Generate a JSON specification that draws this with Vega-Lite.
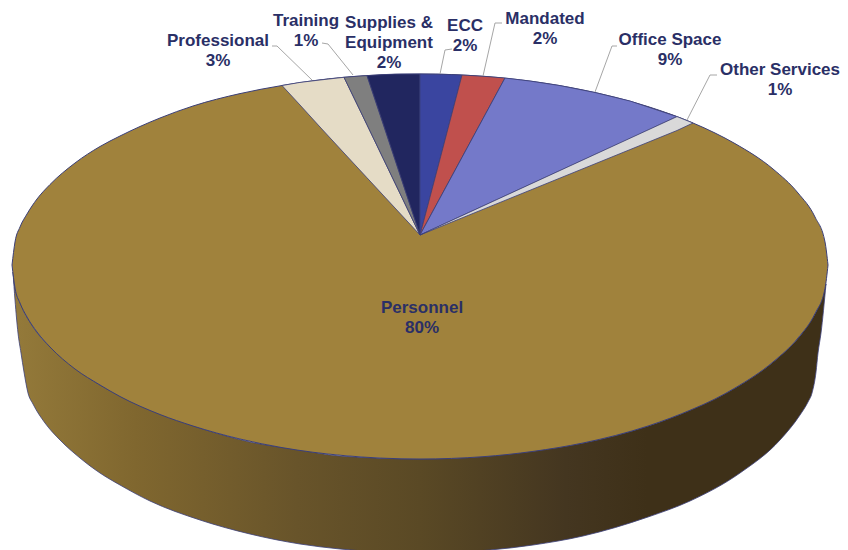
{
  "$schema": "https://vega.github.io/schema/vega-lite/v6.json",
  "width": 848,
  "height": 550,
  "padding": 0,
  "autosize": {"type": "fit", "contains": "padding"},
  "background": "white",
  "view": {"stroke": null},
  "datasets": {
    "wall": [
      {"x": 13, "upper": 272, "lower": 272},
      {"x": 15, "upper": 288, "lower": 300},
      {"x": 18, "upper": 298, "lower": 333},
      {"x": 21, "upper": 305, "lower": 353},
      {"x": 24, "upper": 312, "lower": 372},
      {"x": 28, "upper": 319, "lower": 393},
      {"x": 33, "upper": 327, "lower": 404},
      {"x": 45, "upper": 342, "lower": 423},
      {"x": 60, "upper": 356, "lower": 440},
      {"x": 80, "upper": 372, "lower": 458},
      {"x": 100, "upper": 385, "lower": 473},
      {"x": 120, "upper": 396, "lower": 485},
      {"x": 150, "upper": 410, "lower": 501},
      {"x": 200, "upper": 428, "lower": 520},
      {"x": 250, "upper": 442, "lower": 534},
      {"x": 300, "upper": 450, "lower": 544},
      {"x": 340, "upper": 456, "lower": 549},
      {"x": 420, "upper": 459, "lower": 553},
      {"x": 490, "upper": 456, "lower": 550},
      {"x": 533, "upper": 451, "lower": 545},
      {"x": 583, "upper": 443, "lower": 536},
      {"x": 648, "upper": 426, "lower": 517},
      {"x": 690, "upper": 410, "lower": 501},
      {"x": 740, "upper": 385, "lower": 473},
      {"x": 780, "upper": 356, "lower": 440},
      {"x": 800, "upper": 336, "lower": 415},
      {"x": 808, "upper": 325, "lower": 402},
      {"x": 812, "upper": 319, "lower": 393},
      {"x": 816, "upper": 312, "lower": 372},
      {"x": 818, "upper": 308, "lower": 353},
      {"x": 821, "upper": 301, "lower": 333},
      {"x": 826, "upper": 284, "lower": 284}
    ],
    "personnel": [
      {"slice": "Personnel", "x": 12, "upper": 265, "lower": 265},
      {"slice": "Personnel", "x": 15, "upper": 242, "lower": 288},
      {"slice": "Personnel", "x": 20, "upper": 227, "lower": 303},
      {"slice": "Personnel", "x": 27, "upper": 214, "lower": 317},
      {"slice": "Personnel", "x": 37, "upper": 199, "lower": 332},
      {"slice": "Personnel", "x": 50, "upper": 184.5, "lower": 347},
      {"slice": "Personnel", "x": 75, "upper": 163, "lower": 369},
      {"slice": "Personnel", "x": 100, "upper": 146.5, "lower": 385},
      {"slice": "Personnel", "x": 120, "upper": 136, "lower": 396.5},
      {"slice": "Personnel", "x": 160, "upper": 118, "lower": 414.5},
      {"slice": "Personnel", "x": 193, "upper": 106, "lower": 426},
      {"slice": "Personnel", "x": 240, "upper": 93.6, "lower": 439},
      {"slice": "Personnel", "x": 282, "upper": 85.5, "lower": 447.6},
      {"slice": "Personnel", "x": 344, "upper": 77.3, "lower": 455.6},
      {"slice": "Personnel", "x": 420, "upper": 74, "lower": 459},
      {"slice": "Personnel", "x": 483, "upper": 76.3, "lower": 456.7},
      {"slice": "Personnel", "x": 533, "upper": 81.5, "lower": 451.4},
      {"slice": "Personnel", "x": 583, "upper": 90, "lower": 443},
      {"slice": "Personnel", "x": 648, "upper": 106.6, "lower": 426},
      {"slice": "Personnel", "x": 693, "upper": 123, "lower": 409},
      {"slice": "Personnel", "x": 715, "upper": 133, "lower": 399},
      {"slice": "Personnel", "x": 735, "upper": 143.6, "lower": 388},
      {"slice": "Personnel", "x": 773, "upper": 169, "lower": 362},
      {"slice": "Personnel", "x": 798, "upper": 193, "lower": 338},
      {"slice": "Personnel", "x": 815, "upper": 217, "lower": 313.6},
      {"slice": "Personnel", "x": 825, "upper": 242, "lower": 288.5},
      {"slice": "Personnel", "x": 828, "upper": 265, "lower": 265}
    ],
    "wedges": [
      {"slice": "Professional", "x": 282, "upper": 85.5, "lower": 85.5},
      {"slice": "Professional", "x": 300, "upper": 82.4, "lower": 105},
      {"slice": "Professional", "x": 320, "upper": 80, "lower": 127},
      {"slice": "Professional", "x": 344, "upper": 77.3, "lower": 153},
      {"slice": "Professional", "x": 367, "upper": 124.8, "lower": 177.8},
      {"slice": "Professional", "x": 395, "upper": 183, "lower": 208},
      {"slice": "Professional", "x": 420, "upper": 235, "lower": 235},
      {"slice": "Training", "x": 344, "upper": 77.3, "lower": 77.3},
      {"slice": "Training", "x": 355, "upper": 76.4, "lower": 99.9},
      {"slice": "Training", "x": 367, "upper": 75.6, "lower": 124.8},
      {"slice": "Training", "x": 395, "upper": 159.5, "lower": 183},
      {"slice": "Training", "x": 420, "upper": 235, "lower": 235},
      {"slice": "Supplies & Equipment", "x": 367, "upper": 75.6, "lower": 75.6},
      {"slice": "Supplies & Equipment", "x": 380, "upper": 74.8, "lower": 114.2},
      {"slice": "Supplies & Equipment", "x": 395, "upper": 74.1, "lower": 159.5},
      {"slice": "Supplies & Equipment", "x": 420, "upper": 74, "lower": 235},
      {"slice": "ECC", "x": 420, "upper": 74, "lower": 235},
      {"slice": "ECC", "x": 440, "upper": 74.2, "lower": 159},
      {"slice": "ECC", "x": 462, "upper": 75, "lower": 75},
      {"slice": "Mandated", "x": 420, "upper": 235, "lower": 235},
      {"slice": "Mandated", "x": 440, "upper": 159, "lower": 198},
      {"slice": "Mandated", "x": 462, "upper": 75, "lower": 157.4},
      {"slice": "Mandated", "x": 485, "upper": 76.4, "lower": 115},
      {"slice": "Mandated", "x": 505, "upper": 78, "lower": 78},
      {"slice": "Office Space", "x": 420, "upper": 235, "lower": 235},
      {"slice": "Office Space", "x": 462, "upper": 157.4, "lower": 215.7},
      {"slice": "Office Space", "x": 505, "upper": 78, "lower": 196},
      {"slice": "Office Space", "x": 530, "upper": 81, "lower": 184.5},
      {"slice": "Office Space", "x": 560, "upper": 85.6, "lower": 170.7},
      {"slice": "Office Space", "x": 595, "upper": 92.5, "lower": 154.6},
      {"slice": "Office Space", "x": 630, "upper": 101, "lower": 138.6},
      {"slice": "Office Space", "x": 677, "upper": 116.6, "lower": 116.6},
      {"slice": "Other Services", "x": 420, "upper": 235, "lower": 235},
      {"slice": "Other Services", "x": 677, "upper": 116.6, "lower": 130.5},
      {"slice": "Other Services", "x": 693, "upper": 123, "lower": 123}
    ],
    "leaders": [
      {"slice": "Professional", "step": 0, "x": 272, "y": 46},
      {"slice": "Professional", "step": 1, "x": 277, "y": 46},
      {"slice": "Professional", "step": 2, "x": 312, "y": 80},
      {"slice": "Training", "step": 0, "x": 322, "y": 43},
      {"slice": "Training", "step": 1, "x": 328, "y": 44},
      {"slice": "Training", "step": 2, "x": 353, "y": 75},
      {"slice": "ECC", "step": 0, "x": 452, "y": 49},
      {"slice": "ECC", "step": 1, "x": 445, "y": 50},
      {"slice": "ECC", "step": 2, "x": 440, "y": 74},
      {"slice": "Mandated", "step": 0, "x": 502, "y": 23},
      {"slice": "Mandated", "step": 1, "x": 495, "y": 23},
      {"slice": "Mandated", "step": 2, "x": 483, "y": 76},
      {"slice": "Office Space", "step": 0, "x": 617, "y": 46},
      {"slice": "Office Space", "step": 1, "x": 612, "y": 46},
      {"slice": "Office Space", "step": 2, "x": 595, "y": 92},
      {"slice": "Other Services", "step": 0, "x": 717, "y": 75},
      {"slice": "Other Services", "step": 1, "x": 710, "y": 75},
      {"slice": "Other Services", "step": 2, "x": 687, "y": 120}
    ],
    "labels": [
      {"lines": ["Professional", "3%"], "x": 218, "y": 41},
      {"lines": ["Training", "1%"], "x": 306, "y": 21},
      {"lines": ["Supplies &", "Equipment", "2%"], "x": 389, "y": 23},
      {"lines": ["ECC", "2%"], "x": 465, "y": 26},
      {"lines": ["Mandated", "2%"], "x": 545, "y": 19},
      {"lines": ["Office Space", "9%"], "x": 670, "y": 40},
      {"lines": ["Other Services", "1%"], "x": 780, "y": 70},
      {"lines": ["Personnel", "80%"], "x": 422, "y": 308}
    ]
  },
  "encoding": {
    "x": {"field": "x", "type": "quantitative", "axis": null, "scale": {"domain": [0, 848], "nice": false, "zero": false}}
  },
  "layer": [
    {
      "data": {"name": "wall"},
      "mark": {
        "type": "area",
        "clip": true,
        "interpolate": "monotone",
        "stroke": "#3b3f78",
        "strokeWidth": 0.8,
        "color": {
          "gradient": "linear",
          "x1": 0, "x2": 1, "y1": 0, "y2": 0,
          "stops": [
            {"offset": 0, "color": "#947a3a"},
            {"offset": 0.15, "color": "#80672f"},
            {"offset": 0.35, "color": "#68542a"},
            {"offset": 0.5, "color": "#5a4925"},
            {"offset": 0.68, "color": "#443620"},
            {"offset": 0.78, "color": "#3e3018"},
            {"offset": 1, "color": "#3e3018"}
          ]
        }
      },
      "encoding": {
        "y": {"field": "upper", "type": "quantitative", "axis": null, "scale": {"domain": [550, 0], "nice": false, "zero": false}},
        "y2": {"field": "lower"}
      }
    },
    {
      "data": {"name": "personnel"},
      "mark": {"type": "area", "interpolate": "monotone", "stroke": "#3b3f78", "strokeWidth": 1, "fill": "#a0823c"},
      "encoding": {
        "y": {"field": "upper", "type": "quantitative", "axis": null, "scale": {"domain": [550, 0], "nice": false, "zero": false}},
        "y2": {"field": "lower"}
      }
    },
    {
      "data": {"name": "wedges"},
      "mark": {"type": "area", "interpolate": "linear", "stroke": "#3b3f78", "strokeWidth": 0.8},
      "encoding": {
        "y": {"field": "upper", "type": "quantitative", "axis": null, "scale": {"domain": [550, 0], "nice": false, "zero": false}},
        "y2": {"field": "lower"},
        "color": {
          "field": "slice",
          "type": "nominal",
          "legend": null,
          "scale": {
            "domain": ["Professional", "Training", "Supplies & Equipment", "ECC", "Mandated", "Office Space", "Other Services"],
            "range": ["#e5dcc6", "#7f7f7f", "#21265f", "#3a45a0", "#c0504d", "#7479c9", "#d9d9d9"]
          }
        }
      }
    },
    {
      "data": {"name": "leaders"},
      "mark": {"type": "line", "stroke": "#a6a6a6", "strokeWidth": 1},
      "encoding": {
        "y": {"field": "y", "type": "quantitative", "axis": null, "scale": {"domain": [550, 0], "nice": false, "zero": false}},
        "detail": {"field": "slice"},
        "order": {"field": "step", "type": "quantitative"}
      }
    },
    {
      "data": {"name": "labels"},
      "mark": {"type": "text", "font": "Liberation Sans", "fontWeight": "bold", "fontSize": 17, "lineHeight": 20, "align": "center", "baseline": "middle", "fill": "#2a2f66"},
      "encoding": {
        "y": {"field": "y", "type": "quantitative", "axis": null, "scale": {"domain": [550, 0], "nice": false, "zero": false}},
        "text": {"field": "lines", "type": "nominal"}
      }
    }
  ]
}
